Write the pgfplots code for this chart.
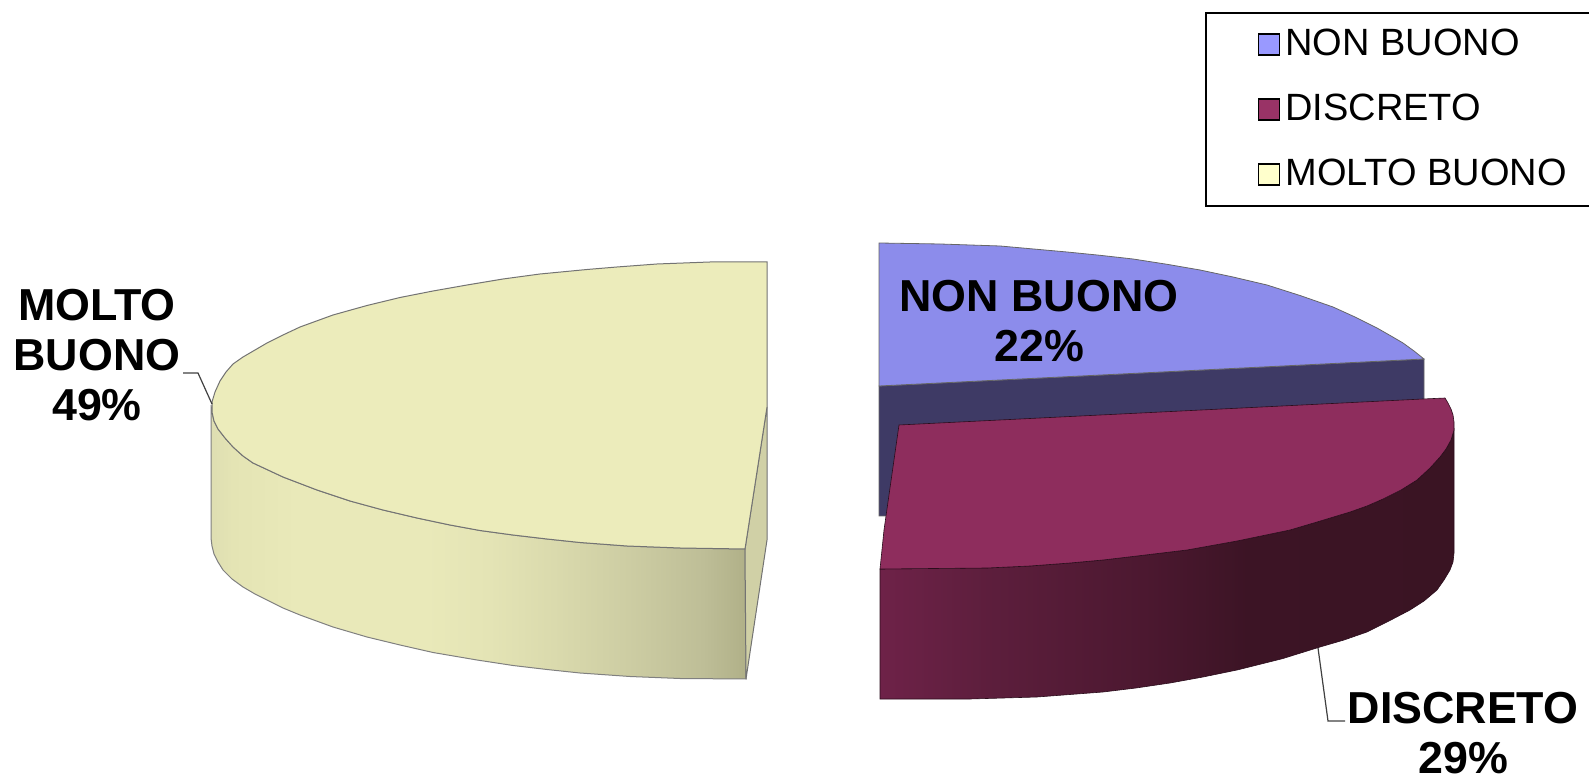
\documentclass[border=0pt]{standalone}
\usepackage{fontspec}
\setmainfont{Liberation Sans}
\usepackage{pgfplots}
\pgfplotsset{compat=1.18}

\definecolor{legblue}{HTML}{9999FF}
\definecolor{legred}{HTML}{993366}
\definecolor{legyellow}{HTML}{FFFFCC}
\definecolor{topblue}{HTML}{8C8CEB}
\definecolor{sideblue}{HTML}{3E3A65}
\definecolor{topred}{HTML}{8E2D5D}
\definecolor{topyellow}{HTML}{ECECBB}
\definecolor{inneryellow}{HTML}{D0D0A6}

\definecolor{ya}{HTML}{DEDEB2}
\definecolor{yb}{HTML}{E4E4B4}
\definecolor{yc}{HTML}{E9E9B9}
\definecolor{yd}{HTML}{E4E4B5}
\definecolor{ye}{HTML}{DADAAD}
\definecolor{yf}{HTML}{CDCDA3}
\definecolor{yg}{HTML}{BEBE97}
\definecolor{yh}{HTML}{B0B088}
\pgfdeclarehorizontalshading{yellowside}{100bp}{
  color(0bp)=(ya); color(25bp)=(ya); color(27bp)=(yb); color(33bp)=(yc); color(45bp)=(yc);
  color(51bp)=(yd); color(57bp)=(ye); color(64bp)=(yf); color(71bp)=(yg); color(75bp)=(yh); color(100bp)=(yh)}
\definecolor{ra}{HTML}{6E2248}
\definecolor{rb}{HTML}{5C1E3C}
\definecolor{rc}{HTML}{4C1830}
\definecolor{rd}{HTML}{3C1425}
\definecolor{re}{HTML}{3A1423}
\pgfdeclarehorizontalshading{redside}{100bp}{
  color(0bp)=(ra); color(25bp)=(ra); color(35bp)=(rb); color(48bp)=(rc); color(57bp)=(rd); color(75bp)=(re); color(100bp)=(re)}

\begin{document}
\begin{tikzpicture}
\begin{axis}[
    hide axis,
    scale only axis,
    width=794.5pt,
    height=387.5pt,
    xmin=0, xmax=1589,
    ymin=0, ymax=775,
    y dir=reverse,
    no markers,
    clip=false,
    legend image code/.code={\draw[#1] (0pt,-5.25pt) rectangle (10.5pt,5.25pt);},
    legend cell align=left,
    legend style={
        overlay,
        at={(axis cs:1205,12)},
        anchor=north west,
        draw=black,
        line width=.8pt,
        inner xsep=26pt,
        inner ysep=7.75pt,
        row sep=16.5pt,
        column sep=2.5pt,
        font=\fontsize{19}{20}\selectfont,
        nodes={inner sep=0pt, text height=13.75pt, text depth=2.25pt},
    },
]

% MOLTO BUONO, side wall
\addplot[forget plot, shade, shading=yellowside, draw=black!50, line width=.5pt] coordinates {
    (211,405)(212,412)(214,421)(218,429)(225,438)(233,447)(243,456)(253,463)(268,470)(283,477)(317,490)(350,501)
    (383,510)(417,518)(450,525)(480,530.5)(513,535)(547,539)(580,542.5)(627,546)(680,548)(745,549)
    (746,679)(680,678.5)(630,676.5)(580,673)(547,669.5)(513,665.5)(477,660)(433,652.5)(400,645)(367,637)
    (333,627)(300,615)(283,608)(267,600)(255,594)(243,587)(232,579)(223,570)(218,562)(214,554)(212,546)(211,538)
} -- cycle;
% MOLTO BUONO, cut face
\addplot[forget plot, fill=inneryellow, draw=black!55, line width=.5pt] coordinates {
    (767,407)(745,549)(746,679)(767,540)
} -- cycle;
% MOLTO BUONO, top
\addplot[forget plot, fill=topyellow, draw=black!55, line width=.5pt] coordinates {
    (767,262)(710,262)(657,264)(617,267)(587,269.5)(540,274)(503,279)(467,285)(433,291)(400,297.5)
    (367,305.5)(333,315)(300,327)(283,335)(267,343)(255,350)(243,357)(233,364)(226,372)(220,381)(215,392)(212,402)
    (212,412)(214,421)(218,429)(225,438)(233,447)(243,456)(253,463)(268,470)(283,477)(317,490)(350,501)
    (383,510)(417,518)(450,525)(480,530.5)(513,535)(547,539)(580,542.5)(627,546)(680,548)(745,549)(767,407)
} -- cycle;

% NON BUONO, cut face
\addplot[forget plot, fill=sideblue, draw=black!60, line width=.4pt] coordinates {
    (879,386)(1424,359)(1424,405)(905,430)(890,516)(879,516)
} -- cycle;
% NON BUONO, top
\addplot[forget plot, fill=topblue, draw=black!60, line width=.4pt] coordinates {
    (879,243)(940,244)(1000,246)(1067,252)(1100,255.3)(1133,259)(1167,264.3)(1200,270)(1233,277)(1267,285)(1300,295.5)(1333,307)(1355,317)
    (1377,328)(1391,336)(1403,343)(1414,351)(1424,359)(879,386)
} -- cycle;

% DISCRETO, side wall
\addplot[forget plot, shade, shading=redside, draw=black!70!topred, line width=.3pt] coordinates {
    (880,569)(987,568)(1030,566)(1070,563)(1103,560)(1137,556)(1187,550)(1237,541)(1290,530)(1317,522)(1350,512)(1367,506)(1383,499)(1401,490)
    (1417,480)(1430,468)(1440,457)(1446,449)(1451,440)(1454,430)(1454,553)(1453,562)(1450,570)(1444,580)(1437,590)(1424,601)(1410,610)(1389,621)(1367,632)(1344,640)(1320,647)
    (1283,658.5)(1237,670)(1203,677)(1170,683)(1136,688)(1103,692)(1037,697)(970,699)(880,699)
} -- cycle;
% DISCRETO, top
\addplot[forget plot, fill=topred, draw=black!70!topred, line width=.3pt] coordinates {
    (899,425)(1423,399)(1445,398)(1448,403)(1451,409)(1453,415)(1454,422)(1454,430)(1451,440)(1446,449)(1440,457)(1430,468)(1417,480)(1401,490)(1383,499)(1367,506)
    (1350,512)(1317,522)(1290,530)(1237,541)(1187,550)(1137,556)(1103,560)(1070,563)(1030,566)(987,568)(880,569)(884,530)
} -- cycle;

% leader lines
\addplot[forget plot, color=black!75, line width=.6pt] coordinates {(183,373)(198,373)(212,404)};
\addplot[forget plot, color=black!75, line width=.6pt] coordinates {(1318,648)(1328,721)(1345,721)};

\addlegendimage{fill=legblue, draw=black, line width=.8pt}
\addlegendentry{\makebox[160pt][l]{NON BUONO}}
\addlegendimage{fill=legred, draw=black, line width=.8pt}
\addlegendentry{\makebox[160pt][l]{DISCRETO}}
\addlegendimage{fill=legyellow, draw=black, line width=.8pt}
\addlegendentry{\makebox[160pt][l]{MOLTO BUONO}}

\node[align=center, font=\fontsize{22.4}{25}\selectfont\bfseries] at (axis cs:97,355) {MOLTO\\BUONO\\49\%};
\node[align=center, font=\fontsize{22.4}{25}\selectfont\bfseries] at (axis cs:1039,321) {NON BUONO\\22\%};
\node[align=center, font=\fontsize{22.4}{25}\selectfont\bfseries] at (axis cs:1463,733) {DISCRETO\\29\%};

\end{axis}
\useasboundingbox (0,0) rectangle (794.5pt,387.5pt);
\end{tikzpicture}
\end{document}
